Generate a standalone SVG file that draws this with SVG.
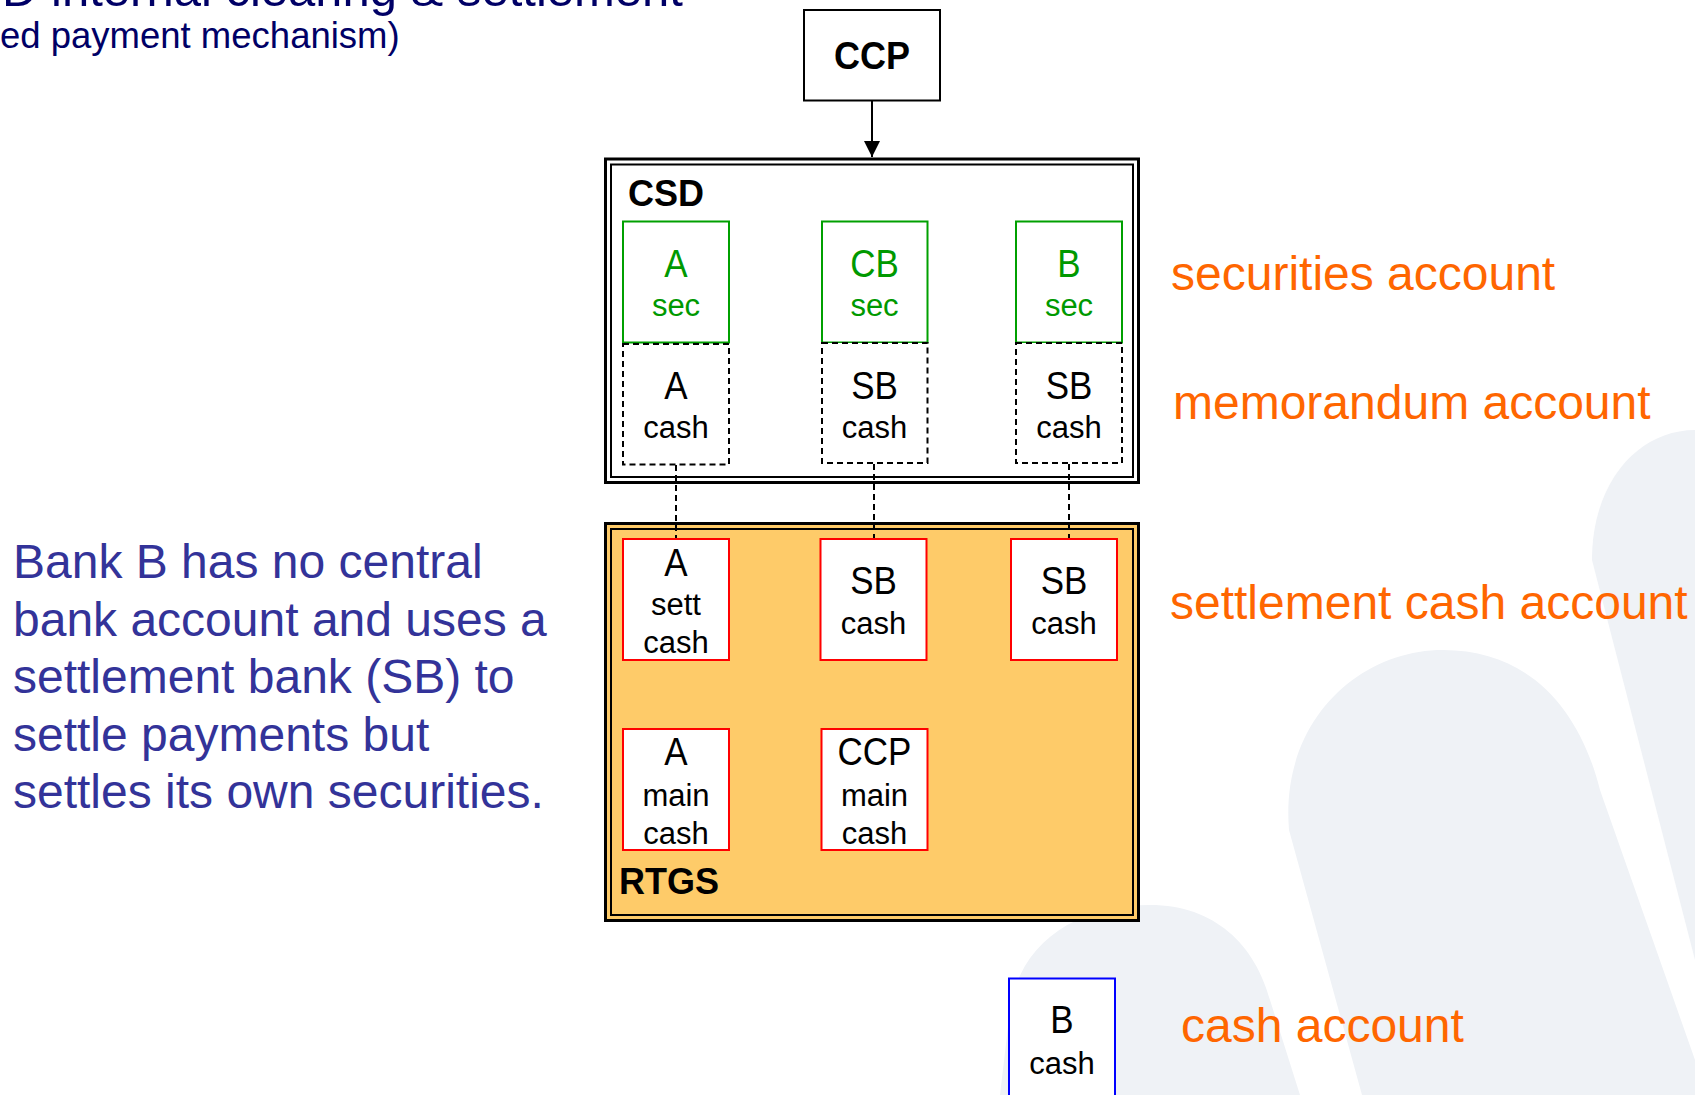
<svg xmlns="http://www.w3.org/2000/svg" width="1695" height="1095" viewBox="0 0 1695 1095">
<defs>
<style>
text{font-family:"Liberation Sans",Arial,Helvetica,sans-serif}
.bg{fill:#eff2f6;stroke:none}
.n1{font-size:35px;text-anchor:middle;fill:#000}
.n2{font-size:31px;text-anchor:middle;fill:#000}
.gr{fill:#009900}
.lbl{font-size:36px;font-weight:bold;fill:#000}
.org{font-size:48px;fill:#ff6600}
.para{font-size:48px;fill:#333399}
.ttl{fill:#000066}
.sec{fill:#fff;stroke:#00a000;stroke-width:2}
.memo{fill:#fff;stroke:#000;stroke-width:2;stroke-dasharray:6 4}
.rt{fill:#fff;stroke:#ff0000;stroke-width:2}
.cb{fill:#fff;stroke:#0000ff;stroke-width:2}
.conn{stroke:#000;stroke-width:2;stroke-dasharray:6 4;fill:none}
.outer{stroke:#000;stroke-width:3}
.inner{fill:none;stroke:#000;stroke-width:2}
</style>
<marker id="arr" viewBox="0 0 16 16" refX="16" refY="8" markerWidth="16" markerHeight="16" markerUnits="userSpaceOnUse" orient="auto">
<path d="M0,0 L16,8 L0,16 Z" fill="#000"/>
</marker>
</defs>
<rect x="0" y="0" width="1695" height="1095" fill="#fff"/>
<g id="background">
<path class="bg" d="M1695,430 C1640,430 1592,480 1592,560 L1695,960 Z"/>
<path class="bg" d="M1362,1095 L1289,830 C1280,720 1360,650 1443,650 C1530,650 1580,710 1600,790 L1695,1060 L1695,1095 Z"/>
<path class="bg" d="M1000,1095 L1010,1010 C1020,940 1080,905 1150,905 C1215,905 1255,945 1270,1000 L1300,1095 Z"/>
</g>
<g id="titles">
<text x="-66" y="6" font-size="49" class="ttl">CSD internal clearing &amp; settlement</text>
<text x="0" y="47.5" font-size="36.5" class="ttl">ed payment mechanism)</text>
</g>
<g id="note">
<text class="para" x="13" y="578">Bank B has no central</text>
<text class="para" x="13" y="635.5">bank account and uses a</text>
<text class="para" x="13" y="693">settlement bank (SB) to</text>
<text class="para" x="13" y="750.5">settle payments but</text>
<text class="para" x="13" y="808">settles its own securities.</text>
</g>
<g id="legend">
<text class="org" x="1171" y="290">securities account</text>
<text class="org" x="1173" y="419">memorandum account</text>
<text class="org" x="1170" y="618.5">settlement cash account</text>
<text class="org" x="1181" y="1042">cash account</text>
</g>
<g id="csd">
<rect class="outer" x="605.5" y="159" width="533" height="323.5" fill="#fff"/>
<rect class="inner" x="611" y="164.5" width="522" height="312.5"/>
<text class="lbl" x="628" y="206">CSD</text>
</g>
<g id="rtgs">
<rect class="outer" x="605.5" y="523.5" width="533" height="397" fill="#fecb69"/>
<rect class="inner" x="611" y="529" width="522" height="386"/>
<text class="lbl" x="619" y="894">RTGS</text>
</g>
<g id="ccp">
<rect x="804" y="10" width="136" height="90.5" fill="#fff" stroke="#000" stroke-width="2"/>
<text class="lbl" text-anchor="middle" transform="translate(872,69) scale(1,1.08)">CCP</text>
</g>
<g id="a-sec">
<rect class="sec" x="623" y="221.5" width="106" height="121"/>
<text class="n1 gr" transform="translate(676,277) scale(1,1.1)">A</text>
<text class="n2 gr" x="676" y="316">sec</text>
</g>
<g id="cb-sec">
<rect class="sec" x="822" y="221.5" width="105.5" height="121"/>
<text class="n1 gr" transform="translate(874.5,277) scale(1,1.1)">CB</text>
<text class="n2 gr" x="874.5" y="316">sec</text>
</g>
<g id="b-sec">
<rect class="sec" x="1016" y="221.5" width="106" height="121"/>
<text class="n1 gr" transform="translate(1069,277) scale(1,1.1)">B</text>
<text class="n2 gr" x="1069" y="316">sec</text>
</g>
<g id="a-memo">
<rect class="memo" x="623" y="344" width="106" height="120.5"/>
<text class="n1" transform="translate(676,399) scale(1,1.1)">A</text>
<text class="n2" x="676" y="438">cash</text>
</g>
<g id="sb-memo-1">
<rect class="memo" x="822" y="343" width="105.5" height="120"/>
<text class="n1" transform="translate(874.5,398.5) scale(1,1.1)">SB</text>
<text class="n2" x="874.5" y="437.5">cash</text>
</g>
<g id="sb-memo-2">
<rect class="memo" x="1016" y="343" width="106" height="120"/>
<text class="n1" transform="translate(1069,398.5) scale(1,1.1)">SB</text>
<text class="n2" x="1069" y="437.5">cash</text>
</g>
<g id="a-sett-cash">
<rect class="rt" x="623" y="539" width="106" height="121"/>
<text class="n1" transform="translate(676,576) scale(1,1.1)">A</text>
<text class="n2" x="676" y="615">sett</text>
<text class="n2" x="676" y="653">cash</text>
</g>
<g id="sb-cash-1">
<rect class="rt" x="820.5" y="539" width="106" height="121"/>
<text class="n1" transform="translate(873.5,594) scale(1,1.1)">SB</text>
<text class="n2" x="873.5" y="634">cash</text>
</g>
<g id="sb-cash-2">
<rect class="rt" x="1011" y="539" width="106" height="121"/>
<text class="n1" transform="translate(1064,594) scale(1,1.1)">SB</text>
<text class="n2" x="1064" y="634">cash</text>
</g>
<g id="a-main-cash">
<rect class="rt" x="623" y="729" width="106" height="121"/>
<text class="n1" transform="translate(676,765) scale(1,1.1)">A</text>
<text class="n2" x="676" y="806">main</text>
<text class="n2" x="676" y="844">cash</text>
</g>
<g id="ccp-main-cash">
<rect class="rt" x="821.5" y="729" width="106" height="121"/>
<text class="n1" transform="translate(874.5,765) scale(1,1.1)">CCP</text>
<text class="n2" x="874.5" y="806">main</text>
<text class="n2" x="874.5" y="844">cash</text>
</g>
<g id="b-cash">
<rect class="cb" x="1009" y="978.5" width="106" height="130"/>
<text class="n1" transform="translate(1062,1033) scale(1,1.1)">B</text>
<text class="n2" x="1062" y="1074">cash</text>
</g>
<g id="connectors">
<line x1="872" y1="101" x2="872" y2="157" stroke="#000" stroke-width="2" marker-end="url(#arr)"/>
<line class="conn" x1="676" y1="465" x2="676" y2="538"/>
<line class="conn" x1="874" y1="464" x2="874" y2="538"/>
<line class="conn" x1="1069" y1="464" x2="1069" y2="538"/>
</g>
</svg>
